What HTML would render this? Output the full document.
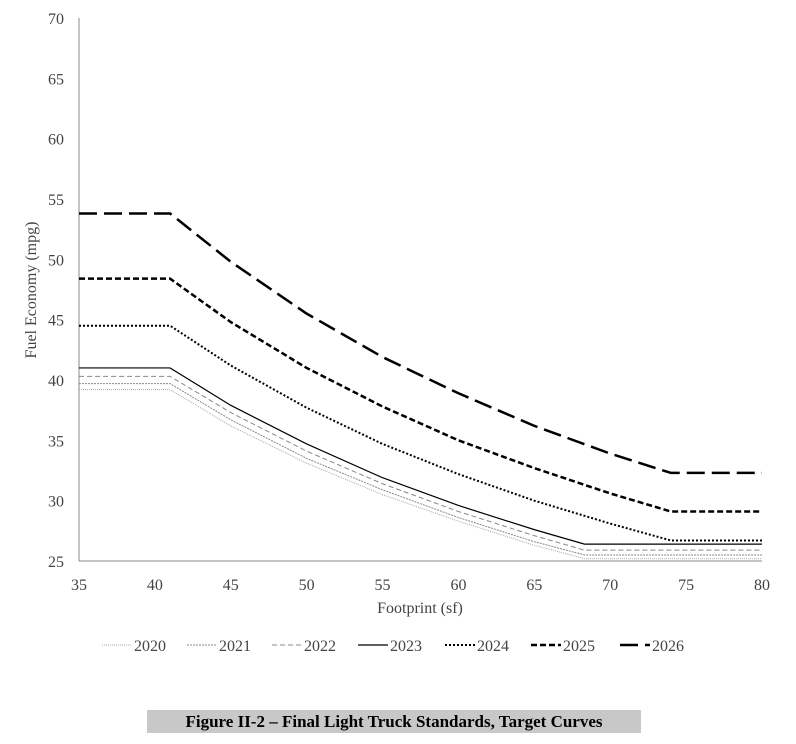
<!DOCTYPE html>
<html><head><meta charset="utf-8"><style>
body{margin:0;background:#fff;font-family:"Liberation Serif",serif;}
#wrap{position:relative;width:796px;height:744px;}
#cap{position:absolute;left:147px;top:710px;width:494px;height:23px;background:#c8c8c8;font-weight:bold;font-size:17px;text-align:center;line-height:23px;}
</style></head><body>
<div id="wrap">
<svg id="chart" width="796" height="700"></svg>
<div id="cap">Figure II-2 – Final Light Truck Standards, Target Curves</div>
</div>
<script>
const xTicks=[35,40,45,50,55,60,65,70,75,80];
const yTicks=[25,30,35,40,45,50,55,60,65,70];
const seriesNames=["2020","2021","2022","2023","2024","2025","2026"];
const fpA=[35,41,45,50,55,60,65,68.3,80];
const fpB=[35,41,45,50,55,60,65,70,74,80];
const s2020=[39.2,39.2,36.2,33.1,30.5,28.3,26.3,25.2,25.2];
const s2021=[39.7,39.7,36.7,33.5,30.9,28.6,26.6,25.5,25.5];
const s2022=[40.3,40.3,37.3,34.1,31.4,29.1,27.1,25.9,25.9];
const s2023=[41.0,41.0,37.9,34.7,31.9,29.6,27.6,26.4,26.4];
const s2024=[44.5,44.5,41.2,37.7,34.7,32.2,30.0,28.1,26.7,26.7];
const s2025=[48.4,48.4,44.8,41.0,37.8,35.0,32.7,30.6,29.1,29.1];
const s2026=[53.8,53.8,49.8,45.5,41.9,38.9,36.2,33.9,32.3,32.3];
const svg=document.getElementById('chart');const NS='http://www.w3.org/2000/svg';
const X=v=>79+(v-35)/45*683, Y=v=>561-(v-25)/45*543;
function mk(t,a){const e=document.createElementNS(NS,t);for(const k in a)e.setAttribute(k,a[k]);svg.appendChild(e);return e;}
const styles=[
{c:'#aaa',w:1,d:'1,1'},{c:'#888',w:1,d:'2,1'},{c:'#888',w:1,d:'5,3'},
{c:'#000',w:1.2,d:''},{c:'#000',w:2,d:'2,2'},{c:'#000',w:2.5,d:'6,3'},{c:'#000',w:2.5,d:'18,7'}];
let ax=mk('line',{x1:79,y1:18,x2:79,y2:561,stroke:'#888'});

let bx=mk('line',{x1:79,y1:561,x2:762,y2:561,stroke:'#888'});

xTicks.forEach(v=>{const t=mk('text',{x:X(v),y:590,'text-anchor':'middle','font-size':16,fill:'#444'});t.textContent=v;
});
yTicks.forEach(v=>{const t=mk('text',{x:64,y:Y(v)+6,'text-anchor':'end','font-size':16,fill:'#444'});t.textContent=v;
});
let xt=mk('text',{x:420,y:613,'text-anchor':'middle','font-size':16,fill:'#444'});xt.textContent='Footprint (sf)';

let yt=mk('text',{x:0,y:0,'text-anchor':'middle','font-size':16,fill:'#444',transform:'translate(36,290) rotate(-90)'});yt.textContent='Fuel Economy (mpg)';

const all=[s2020,s2021,s2022,s2023,s2024,s2025,s2026];
all.forEach((s,i)=>{const xs=i<4?fpA:fpB;const pts=s.map((v,j)=>X(xs[j])+','+Y(v)).join(' ');
const p=mk('polyline',{points:pts,fill:'none',stroke:styles[i].c,'stroke-width':styles[i].w,'stroke-dasharray':styles[i].d});
});
const lx=[102,187,272,358,445,531,620];
seriesNames.forEach((n,i)=>{const g=mk('g',{});
const l=document.createElementNS(NS,'line');[['x1',lx[i]],['y1',645],['x2',lx[i]+30],['y2',645],['stroke',styles[i].c],['stroke-width',styles[i].w],['stroke-dasharray',styles[i].d]].forEach(a=>l.setAttribute(a[0],a[1]));g.appendChild(l);
const t=document.createElementNS(NS,'text');t.setAttribute('x',lx[i]+32);t.setAttribute('y',651);t.setAttribute('font-size',16);t.setAttribute('fill','#444');t.textContent=n;g.appendChild(t);});
</script>
</body></html>
